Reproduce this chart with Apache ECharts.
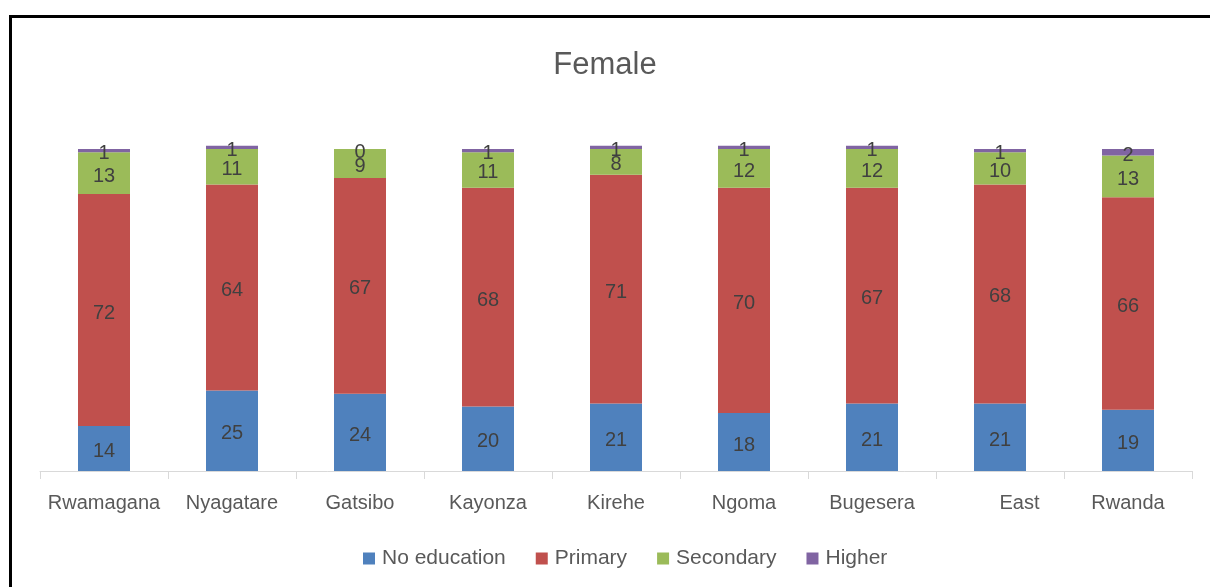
<!DOCTYPE html>
<html>
<head>
<meta charset="utf-8">
<script src="https://cdn.jsdelivr.net/npm/echarts@6/dist/echarts.min.js"></script>
<style>
html,body{margin:0;padding:0;background:#fff;}
#c{width:1210px;height:587px;}
</style>
</head>
<body>
<div id="c"></div>
<script>
var categories = ['Rwamagana','Nyagatare','Gatsibo','Kayonza','Kirehe','Ngoma','Bugesera','East','Rwanda'];
var noEducation = [14,25,24,20,21,18,21,21,19];
var primary     = [72,64,67,68,71,70,67,68,66];
var secondary   = [13,11,9,11,8,12,12,10,13];
var higher      = [1,1,0,1,1,1,1,1,2];

var FONT = 'Liberation Sans';
var chart = echarts.init(document.getElementById('c'));

function mk(name, data, color) {
  return {
    name: name, type: 'bar', stack: 'total', data: data, barWidth: 52, clip: false,
    itemStyle: { color: color },
    label: { show: true, position: 'inside', offset: [0, 3], color: '#404040', fontFamily: FONT, fontSize: 20 },
    emphasis: { disabled: true }
  };
}

chart.setOption({
  animation: false,
  title: {
    text: 'Female', left: 'center', top: 45,
    textStyle: { fontFamily: FONT, fontSize: 31, fontWeight: 'normal', color: '#595959' }
  },
  graphic: [{
    type: 'rect', shape: { x: 10.5, y: 16.5, width: 1400, height: 800 },
    style: { fill: 'none', stroke: '#000', lineWidth: 3 }, silent: true
  }],
  legend: {
    bottom: 13, left: 358, itemWidth: 12, itemHeight: 12, itemGap: 30,
    icon: 'rect',
    textStyle: { fontFamily: FONT, fontSize: 21, color: '#595959', padding: [0,0,0,2] },
    data: ['No education','Primary','Secondary','Higher']
  },
  grid: { left: 40, right: 18, top: 149, bottom: 116 },
  xAxis: {
    type: 'category', data: categories,
    axisLine: { lineStyle: { color: '#D9D9D9', width: 1 } },
    axisTick: { show: true, length: 8, lineStyle: { color: '#D9D9D9' } },
    axisLabel: {
      interval: 0,
      fontFamily: FONT, fontSize: 20, color: '#595959', margin: 22,
      formatter: function (v) { return v === 'East' ? '       ' + v : v; }
    }
  },
  yAxis: {
    type: 'value', min: 0, max: 100, show: false,
    splitLine: { show: false }
  },
  series: [
    mk('No education', noEducation, '#4F81BD'),
    mk('Primary', primary, '#C0504D'),
    mk('Secondary', secondary, '#9BBB59'),
    mk('Higher', higher, '#8064A2')
  ]
});
</script>
</body>
</html>
